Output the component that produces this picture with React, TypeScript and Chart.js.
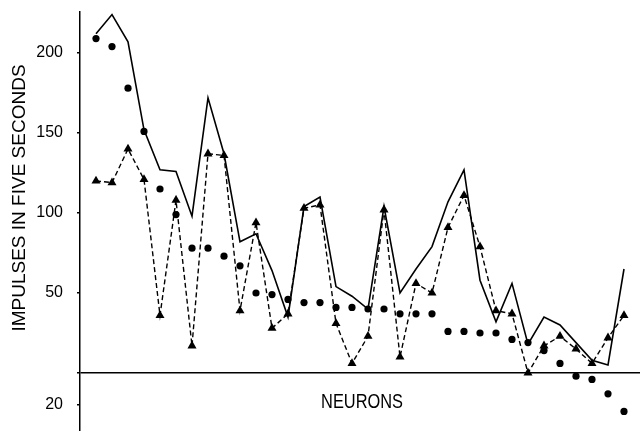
import React, { useEffect, useRef } from "react";
import { Chart, registerables } from "chart.js";

Chart.register(...registerables);

// Neuron index (1..34)
const neurons: number[] = Array.from({ length: 34 }, (_, i) => i);

// Solid line (no markers)
const solidValues: number[] = [
  212, 224, 207, 152, 127, 126, 98, 172, 137, 82,
  87, 64, 35, 104, 110, 54, 48, 40, 104, 50,
  65, 79, 107, 127, 58, 32, 56, 18, 35, 30,
  19, 8, 5, 65,
];

// Dashed line with triangles
const triangleValues: number[] = [
  120, 119, 140, 121, 36, 108, 17, 137, 136, 39,
  94, 28, 37, 103, 105, 31, 6, 23, 102, 10,
  56, 50, 91, 111, 79, 39, 37, 0, 17, 23,
  15, 6, 22, 36,
];

// Filled circles (no line)
const circleValues: number[] = [
  209, 204, 178, 151, 115, 99, 78, 78, 73, 67,
  50, 49, 46, 44, 44, 41, 41, 40, 40, 37,
  37, 37, 26, 26, 25, 25, 21, 19, 14, 6,
  -2, -4, -13, -24,
];

const yTickValues: number[] = [-20, 0, 50, 100, 150, 200];
const yTitle = "IMPULSES IN FIVE SECONDS";
const xTitle = "NEURONS";

const toPoints = (vals: number[]) => vals.map((v, i) => ({ x: neurons[i], y: v }));

const titlePlugin = {
  id: "axisTitles",
  afterDraw(chart: any) {
    const ctx = chart.ctx;
    ctx.save();
    ctx.fillStyle = "#000";
    ctx.font = '19px "Liberation Sans", Arial, sans-serif';
    ctx.textAlign = "center";
    ctx.textBaseline = "middle";
    ctx.translate(20, 198);
    ctx.rotate(-Math.PI / 2);
    ctx.fillText(yTitle, 0, 0);
    ctx.restore();

    ctx.save();
    ctx.fillStyle = "#000";
    ctx.font = '21px "Liberation Sans", Arial, sans-serif';
    ctx.textAlign = "center";
    ctx.textBaseline = "middle";
    ctx.translate(362, 402);
    ctx.scale(0.78, 1);
    ctx.fillText(xTitle, 0, 0);
    ctx.restore();
  },
};

export default function App() {
  const canvasRef = useRef<HTMLCanvasElement | null>(null);

  useEffect(() => {
    if (!canvasRef.current) return;
    const chart = new Chart(canvasRef.current, {
      type: "line",
      data: {
        datasets: [
          {
            label: "solid",
            data: toPoints(solidValues),
            borderColor: "#000",
            borderWidth: 1.6,
            pointRadius: 0,
            tension: 0,
            fill: false,
          },
          {
            label: "triangles",
            data: toPoints(triangleValues),
            borderColor: "#000",
            borderWidth: 1.4,
            borderDash: [5, 3],
            pointStyle: "triangle",
            pointRadius: 5.2,
            pointBackgroundColor: "#000",
            pointBorderColor: "#000",
            pointBorderWidth: 0,
            tension: 0,
            fill: false,
          },
          {
            label: "circles",
            data: toPoints(circleValues),
            showLine: false,
            borderColor: "#000",
            pointStyle: "circle",
            pointRadius: 3.6,
            pointBackgroundColor: "#000",
            pointBorderColor: "#000",
            pointBorderWidth: 0,
          },
        ],
      },
      options: {
        animation: false,
        responsive: false,
        devicePixelRatio: 1,
        layout: { autoPadding: false, padding: { top: 12, right: 0, bottom: 0, left: 0 } },
        plugins: {
          legend: { display: false },
          tooltip: { enabled: false },
        },
        scales: {
          x: {
            type: "linear",
            display: false,
            min: -1,
            max: 34,
          },
          y: {
            type: "linear",
            min: -36.25,
            max: 225.625,
            afterBuildTicks: (scale: any) => {
              scale.ticks = yTickValues.map((v) => ({ value: v }));
            },
            afterFit: (scale: any) => {
              scale.width = 80;
              scale.paddingTop = 0;
              scale.paddingBottom = 0;
            },
            ticks: {
              color: "#000",
              padding: 14,
              font: { family: '"Liberation Sans", Arial, sans-serif', size: 16 },
              callback: (v: any) => (Number(v) === 0 ? "" : String(Math.abs(Number(v)))),
            },
            grid: {
              drawTicks: true,
              tickLength: 3,
              lineWidth: 1.5,
              tickColor: "#000",
              color: (c: any) => (c.tick && c.tick.value === 0 ? "#000" : "rgba(0,0,0,0)"),
            },
            border: { display: true, color: "#000", width: 1.5 },
          },
        },
      },
      plugins: [titlePlugin],
    });
    return () => chart.destroy();
  }, []);

  return (
    <div style={{ position: "fixed", left: 0, top: 0, width: 640, height: 431, background: "#fff" }}>
      <canvas ref={canvasRef} width={640} height={431} style={{ display: "block" }} />
    </div>
  );
}
